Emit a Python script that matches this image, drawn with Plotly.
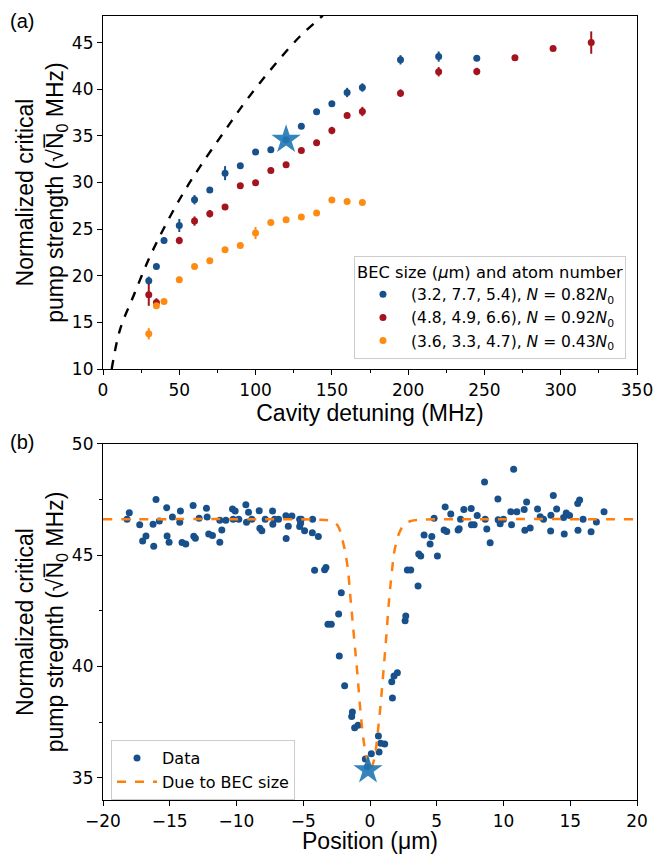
import plotly.graph_objects as go

# ---------------- Panel (a) data ----------------
det_blue = [30, 35, 40, 50, 60, 70, 80, 90, 100, 110, 120, 130, 140, 150, 160, 170, 195, 220, 245]
g_blue = [19.46, 21.0, 23.78, 25.39, 28.15, 29.19, 31.0, 31.79, 33.26, 33.5, 34.58, 36.04, 37.58,
          38.43, 39.65, 40.18, 43.15, 43.5, 43.33]
err_blue = [0.45, 0.2, 0.35, 0.7, 0.5, 0.2, 0.75, 0.2, 0.2, 0.2, 0.2, 0.2, 0.2, 0.2, 0.5, 0.45,
            0.5, 0.55, 0.2]

det_red = [30, 35, 50, 60, 70, 80, 90, 100, 110, 120, 130, 140, 150, 160, 170, 195, 220, 245, 270, 295, 320]
g_red = [17.96, 17.14, 23.78, 25.86, 26.65, 27.36, 29.65, 29.97, 31.29, 31.9, 33.43, 34.25, 35.57,
         37.18, 37.61, 39.58, 41.87, 41.9, 43.37, 44.36, 45.0]
err_red = [1.18, 0.45, 0.4, 0.5, 0.4, 0.2, 0.2, 0.2, 0.2, 0.2, 0.2, 0.2, 0.4, 0.3, 0.5, 0.4, 0.5,
           0.4, 0.2, 0.2, 1.2]

det_orange = [30, 35, 40, 50, 60, 70, 80, 90, 100, 110, 120, 130, 140, 150, 160, 170]
g_orange = [13.78, 16.78, 17.25, 19.57, 21.0, 21.61, 22.79, 23.25, 24.58, 25.71, 26.0, 26.29,
            26.72, 28.11, 27.96, 27.86]
err_orange = [0.6, 0.2, 0.2, 0.35, 0.2, 0.2, 0.2, 0.2, 0.65, 0.2, 0.2, 0.2, 0.2, 0.2, 0.2, 0.2]

star_a_x = [120]
star_a_y = [34.6]

theory_det = [5.7, 11.1, 19.9, 30.8, 41.7, 52.6, 63.6, 78.8, 94.2, 111.6, 129.0, 142.2, 144.0]
theory_g = [10.0, 14.2, 17.8, 22.07, 25.65, 28.86, 31.7, 35.3, 38.86, 42.43, 45.65, 47.62, 47.9]

labels_a = ["(3.2, 7.7, 5.4), <i>N</i> = 0.82<i>N</i><sub>0</sub>",
            "(4.8, 4.9, 6.6), <i>N</i> = 0.92<i>N</i><sub>0</sub>",
            "(3.6, 3.3, 4.7), <i>N</i> = 0.43<i>N</i><sub>0</sub>"]

# ---------------- Panel (b) data ----------------
pos_data = [-18.2, -18.03, -17.25, -16.78, -17.03, -16.03, -16.25, -16.2, -15.78, -15.23, -15.2,
            -15.05, -14.8, -14.2, -14.25, -14.08, -13.8, -13.25, -13.2, -13.08, -12.8, -12.25,
            -12.2, -12.08, -11.8, -11.25, -11.25, -11.1, -10.8, -10.3, -10.1, -10.25, -9.83, -9.3,
            -9.1, -9.25, -8.85, -8.3, -8.25, -8.1, -7.85, -7.3, -7.15, -7.28, -6.85, -6.3, -6.28,
            -6.12, -5.85, -5.27, -5.27, -5.15, -5.2, -4.9, -4.3, -4.32, -3.87, -4.15, -3.4, -3.3,
            -2.15, -2.35, -3.15, -2.9, -2.3, -1.9, -1.32, -1.37, -1.15, -0.9, -0.35, -0.2, 0.1,
            0.63, 0.8, 1.1, 0.68, 1.68, 1.63, 1.8, 2.05, 2.63, 2.68, 3.6, 2.8, 3.05, 3.65, 3.8,
            4.5, 4.05, 4.63, 5.05, 4.8, 5.63, 6.05, 5.55, 5.75, 6.6, 6.68, 6.78, 7.03, 7.58, 7.6,
            7.8, 8.03, 8.58, 8.63, 8.75, 9.0, 9.58, 9.6, 9.75, 10.0, 10.55, 10.6, 10.76, 11.0,
            11.55, 11.73, 11.6, 12.0, 12.55, 12.75, 13.0, 13.53, 13.55, 13.73, 13.98, 14.55, 14.5,
            14.7, 14.95, 15.56, 15.7, 15.58, 15.96, 16.56, 16.96, 17.53]
g_data = [46.62, 46.91, 46.37, 45.87, 45.64, 47.51, 46.39, 45.4, 46.54, 47.14, 45.87, 45.58,
          46.72, 46.99, 46.48, 45.57, 45.51, 47.24, 45.85, 45.76, 46.66, 47.11, 46.72, 45.96,
          45.89, 45.58, 46.57, 46.13, 46.57, 47.08, 46.99, 46.62, 46.62, 47.27, 46.93, 46.48,
          46.62, 47.0, 46.21, 46.1, 46.62, 46.99, 46.62, 46.39, 46.62, 46.77, 45.75, 46.3, 46.76,
          46.62, 46.29, 46.62, 46.44, 46.1, 46.62, 46.01, 45.84, 44.33, 44.35, 44.45, 43.32,
          42.36, 41.9, 41.9, 40.47, 39.14, 37.96, 37.75, 37.25, 37.36, 35.84, 35.5, 36.08, 36.88,
          36.55, 36.52, 36.16, 38.58, 39.32, 39.57, 39.72, 42.06, 42.27, 43.62, 44.34, 44.34,
          45.06, 44.97, 45.5, 45.91, 45.84, 44.97, 46.66, 47.17, 46.85, 46.13, 46.07, 46.13,
          46.19, 46.62, 47.06, 47.1, 46.37, 46.37, 46.79, 48.29, 46.62, 46.18, 45.56, 47.53, 46.6,
          46.42, 46.62, 46.96, 46.37, 48.86, 46.96, 47.06, 47.39, 46.12, 46.22, 47.08, 46.73,
          46.62, 46.09, 46.8, 47.69, 47.08, 45.96, 46.7, 46.9, 46.79, 47.33, 47.48, 46.12, 46.62,
          46.06, 46.49, 46.96]

pos_model = [-20.0, -8.0, -4.0, -3.07, -2.45, -2.07, -1.7, -1.45, -1.2, -0.95, -0.7, -0.45, -0.2,
             0.0, 0.3, 0.68, 0.93, 1.18, 1.43, 1.68, 1.8, 2.18, 2.55, 3.05, 4.0, 8.0, 20.0]
g_model = [46.62, 46.62, 46.6, 46.56, 46.36, 45.7, 44.57, 43.0, 41.34, 39.7, 37.9, 36.55, 35.8,
           35.35, 35.8, 37.6, 39.24, 41.04, 43.0, 44.49, 45.1, 45.99, 46.36, 46.54, 46.6, 46.62, 46.62]

star_b_x = [-0.15]
star_b_y = [35.35]

BLUE = "#18508c"
RED = "#a3141e"
ORANGE = "#ff8c12"
STAR = "rgba(31,119,180,0.9)"

fig = go.Figure()

for det, g, err, col, lab in [(det_blue, g_blue, err_blue, BLUE, labels_a[0]),
                              (det_red, g_red, err_red, RED, labels_a[1]),
                              (det_orange, g_orange, err_orange, ORANGE, labels_a[2])]:
    fig.add_trace(go.Scatter(
        x=det, y=g, mode="markers", name=lab,
        marker=dict(color=col, size=7),
        error_y=dict(type="data", array=err, visible=True, color=col, thickness=2, width=0),
        xaxis="x", yaxis="y", legend="legend"))

fig.add_trace(go.Scatter(x=theory_det, y=theory_g, mode="lines", line_shape="spline",
                         line=dict(color="black", width=2.4, dash="dash"), showlegend=False,
                         xaxis="x", yaxis="y"))
fig.add_trace(go.Scatter(x=star_a_x, y=star_a_y, mode="markers", showlegend=False,
                         marker=dict(symbol="star", size=22, color=STAR, line=dict(width=0)),
                         xaxis="x", yaxis="y"))

fig.add_trace(go.Scatter(x=pos_data, y=g_data, mode="markers", name="Data",
                         marker=dict(color=BLUE, size=7), xaxis="x2", yaxis="y2", legend="legend2"))
fig.add_trace(go.Scatter(x=pos_model, y=g_model, mode="lines", name="Due to BEC size",
                         line_shape="spline",
                         line=dict(color="#ff7f0e", width=2.5, dash="dash"),
                         xaxis="x2", yaxis="y2", legend="legend2"))
fig.add_trace(go.Scatter(x=star_b_x, y=star_b_y, mode="markers", showlegend=False,
                         marker=dict(symbol="star", size=22, color=STAR, line=dict(width=0)),
                         xaxis="x2", yaxis="y2"))

TICKF = dict(family="DejaVu Sans", size=17, color="black")
TITLEF = dict(family="Liberation Sans, Arial", size=23, color="black")
ax_common = dict(showline=True, linecolor="black", linewidth=1.2, mirror=True, ticks="outside",
                 ticklen=5, tickwidth=1.2, tickcolor="black", showgrid=False, zeroline=False,
                 tickfont=TICKF, automargin=False)

ytitle = "Normalized critical<br>pump strength (√N̅<sub>0</sub> MHz)"

# The page body adds an 8 px offset, so the figure is slightly smaller than the window.
fig.update_layout(
    width=655, height=846, paper_bgcolor="white", plot_bgcolor="white",
    margin=dict(l=95, r=26, t=8, b=54),
    xaxis=dict(domain=[0, 1], range=[0, 350], tickvals=[0, 50, 100, 150, 200, 250, 300, 350],
               minor=dict(dtick=25, tick0=0, ticks="outside", ticklen=3, tickcolor="black"),
               title=dict(text="Cavity detuning (MHz)", font=TITLEF, standoff=5),
               anchor="y", **ax_common),
    yaxis=dict(domain=[0.5497, 1], range=[10, 47.85], tickvals=[10, 15, 20, 25, 30, 35, 40, 45],
               title=dict(text=ytitle, font=TITLEF, standoff=1), anchor="x", **ax_common),
    xaxis2=dict(domain=[0, 1], range=[-20, 20], tickvals=[-20, -15, -10, -5, 0, 5, 10, 15, 20],
                ticktext=["−20", "−15", "−10", "−5", "0", "5", "10", "15", "20"],
                title=dict(text="Position (μm)", font=TITLEF, standoff=7),
                anchor="y2", **ax_common),
    yaxis2=dict(domain=[0, 0.4541], range=[34, 50], tickvals=[35, 40, 45, 50],
                minor=dict(dtick=2.5, tick0=0, ticks="outside", ticklen=3, tickcolor="black"),
                title=dict(text=ytitle.replace("strength", "stregnth"), font=TITLEF, standoff=1),
                anchor="x2", **ax_common),
    legend=dict(x=0.47, y=0.6945, xanchor="left", yanchor="top", xref="paper", yref="paper",
                bgcolor="rgba(255,255,255,0.85)", bordercolor="#cccccc", borderwidth=1,
                font=dict(family="DejaVu Sans", size=15.5, color="black"),
                title=dict(text="BEC size (<i>μ</i>m) and atom number", side="top center",
                           font=dict(family="DejaVu Sans", size=16.3, color="black")),
                itemwidth=46, tracegroupgap=2),
    legend2=dict(x=0.015, y=0.0765, xanchor="left", yanchor="top", xref="paper", yref="paper",
                 bgcolor="rgba(255,255,255,0.85)", bordercolor="#cccccc", borderwidth=1,
                 font=dict(family="DejaVu Sans", size=16, color="black"), itemwidth=40),
)
fig.add_annotation(text="(a)", xref="paper", yref="paper", x=-0.152, y=1.0102, xanchor="center",
                   yanchor="top", showarrow=False,
                   font=dict(family="Liberation Sans, Arial", size=20, color="black"))
fig.add_annotation(text="(b)", xref="paper", yref="paper", x=-0.152, y=0.457, xanchor="center",
                   yanchor="middle", showarrow=False,
                   font=dict(family="Liberation Sans, Arial", size=20, color="black"))

fig.write_html("out.html")
